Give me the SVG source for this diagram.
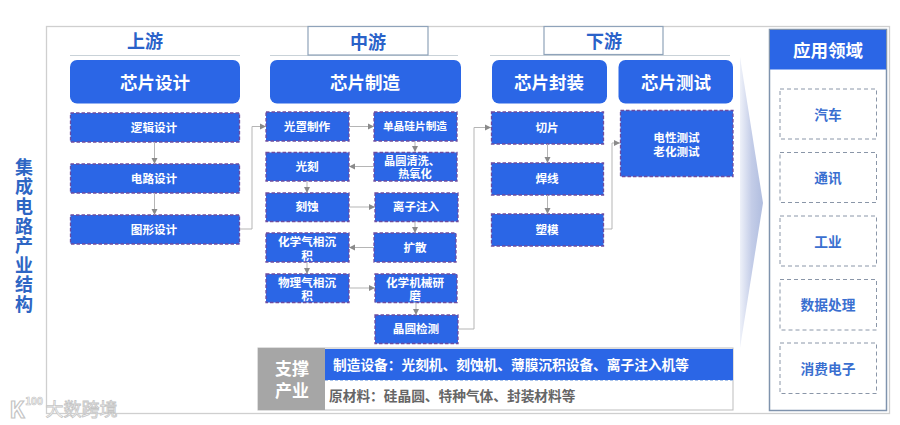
<svg xmlns="http://www.w3.org/2000/svg" width="900" height="425" viewBox="0 0 900 425">
<style>
text{font-family:"Noto Sans CJK SC","Noto Sans",sans-serif;font-weight:700;text-anchor:middle;dominant-baseline:central;transform:translateY(-1.5px)}
.h{fill:#2b66e6}
.t{fill:#fff;font-size:17.5px}
.s{fill:#2b66e6;stroke:#6d4c9f;stroke-width:1.3;stroke-dasharray:3.5 2}
.l{fill:#fff;font-size:11.6px}
.tier{fill:#2a62c9;font-size:18px}
.tb{fill:#fff;stroke:#8fa3ba;stroke-width:1.2}
.rule{stroke:#c9d2d8;stroke-width:1;fill:none}
.app{fill:#fff;stroke:#8a96a8;stroke-width:1;stroke-dasharray:4 3}
.al{fill:#3a6fd0;font-size:13.7px}
.c{fill:none;stroke:#b5b5b5;stroke-width:1;marker-end:url(#a)}
.v{fill:#2e66c4;font-size:18px;writing-mode:vertical-rl;text-anchor:start;letter-spacing:1.6px;transform:none}
.sup{font-size:13.7px;text-anchor:start}
</style>
<defs>
<marker id="a" markerUnits="userSpaceOnUse" markerWidth="7" markerHeight="7" refX="6" refY="3.5" orient="auto"><path d="M0 0.5L6 3.5L0 6.5z" fill="#8a8a8a"/></marker>
<linearGradient id="g" x1="0" y1="0" x2="1" y2="0"><stop offset="0" stop-color="#eef1f9"/><stop offset="0.5" stop-color="#c4cde8"/><stop offset="1" stop-color="#b0bddf"/></linearGradient>
</defs>
<rect width="900" height="425" fill="#fff"/>
<rect id="frame" x="46.500" y="26.500" width="843" height="387" fill="#fff" stroke="#cfcfcf" stroke-width="1.300"/>
<g id="title"><text class="v" x="24" y="158">集成电路产业结构</text></g>
<g id="tier-up"><path class="rule" d="M70 55.500H240"/><text class="tier" x="145" y="41">上游</text></g>
<g id="tier-mid"><path class="rule" d="M270 55.500H458"/><rect class="tb" x="308" y="26.500" width="120" height="28.500"/><text class="tier" x="368" y="42">中游</text></g>
<g id="tier-down"><path class="rule" d="M490 55.500H730"/><rect class="tb" x="544" y="26.500" width="119" height="28"/><text class="tier" x="604" y="41">下游</text></g>
<g id="head-design"><rect class="h" x="70" y="60" width="170" height="43.500" rx="7"/><text class="t" x="155" y="82.500">芯片设计</text></g>
<g id="head-fab"><rect class="h" x="270" y="60" width="191" height="43.500" rx="7"/><text class="t" x="365" y="82.500">芯片制造</text></g>
<g id="head-pack"><rect class="h" x="492" y="60" width="115" height="43.500" rx="7"/><text class="t" x="549" y="82.500">芯片封装</text></g>
<g id="head-test"><rect class="h" x="618.500" y="60" width="114.500" height="43.500" rx="7"/><text class="t" x="676" y="82.500">芯片测试</text></g>
<g id="n1"><rect class="s" x="70.500" y="113" width="169" height="29"/><text class="l" x="154" y="128">逻辑设计</text></g>
<g id="n2"><rect class="s" x="70.500" y="164" width="169" height="29"/><text class="l" x="154" y="179">电路设计</text></g>
<g id="n3"><rect class="s" x="70.500" y="215" width="169" height="29"/><text class="l" x="154" y="230">图形设计</text></g>
<g id="m1"><rect class="s" x="266" y="112" width="83" height="29"/><text class="l" x="307" y="127">光罩制作</text></g>
<g id="m2"><rect class="s" x="374" y="112" width="83" height="29"/><text class="l" x="415" y="127" style="font-size:10.7px">单晶硅片制造</text></g>
<g id="m3"><rect class="s" x="266" y="152.500" width="83" height="28.500"/><text class="l" x="307" y="167">光刻</text></g>
<g id="m4"><rect class="s" x="374" y="152.500" width="83" height="28.500"/><text class="l" style="font-size:11.2px"><tspan x="412" y="161">晶圆清洗、</tspan><tspan x="415" y="174">热氧化</tspan></text></g>
<g id="m5"><rect class="s" x="266" y="193" width="83" height="28.500"/><text class="l" x="307" y="207.500">刻蚀</text></g>
<g id="m6"><rect class="s" x="375" y="193" width="83" height="28.500"/><text class="l" x="416" y="207.500">离子注入</text></g>
<g id="m7"><rect class="s" x="266" y="233" width="83" height="29"/><text class="l"><tspan x="307" y="242">化学气相沉</tspan><tspan x="307" y="256">积</tspan></text></g>
<g id="m8"><rect class="s" x="374" y="233" width="82" height="29"/><text class="l" x="415" y="248">扩散</text></g>
<g id="m9"><rect class="s" x="266" y="274" width="83" height="28.500"/><text class="l"><tspan x="307" y="283">物理气相沉</tspan><tspan x="307" y="296">积</tspan></text></g>
<g id="m10"><rect class="s" x="375" y="274" width="82" height="28.500"/><text class="l"><tspan x="415" y="283">化学机械研</tspan><tspan x="415" y="296">磨</tspan></text></g>
<g id="m11"><rect class="s" x="375" y="315" width="83" height="28.500"/><text class="l" x="416" y="329.500">晶圆检测</text></g>
<g id="d1"><rect class="s" x="491.500" y="112" width="112" height="32"/><text class="l" x="547" y="128">切片</text></g>
<g id="d2"><rect class="s" x="491.500" y="163" width="112" height="32"/><text class="l" x="547" y="179.500">焊线</text></g>
<g id="d3"><rect class="s" x="491.500" y="214" width="112" height="32"/><text class="l" x="547" y="230">塑模</text></g>
<g id="d4"><rect class="s" x="620.500" y="110.500" width="112.500" height="66"/><text class="l"><tspan x="676.500" y="138">电性测试</tspan><tspan x="676.500" y="152">老化测试</tspan></text></g>
<g id="connectors">
<path class="c" d="M154.500 142V164"/><path class="c" d="M154.500 193V215"/>
<path class="c" d="M240 229H252V126.500H266"/>
<path class="c" d="M349 126.500H374"/><path class="c" d="M415 141V152"/>
<path class="c" d="M374 166.500H349"/><path class="c" d="M307 181V193"/>
<path class="c" d="M349 207H375"/><path class="c" d="M415 221.500V233"/>
<path class="c" d="M374 247.500H349"/><path class="c" d="M307 262V274"/>
<path class="c" d="M349 288H375"/><path class="c" d="M416 302.500V315"/>
<path class="c" d="M458 329H474V127.500H491"/>
<path class="c" d="M547.500 144V163"/><path class="c" d="M547.500 195V214"/>
<path class="c" d="M604 229H612V143H620"/>
</g>
<polygon id="flow" points="740,57 763,203 740,348" fill="url(#g)"/>
<g id="support">
<rect x="258" y="348" width="475" height="62" fill="#fff" stroke="#bdbdbd" stroke-width="1"/>
<rect x="258" y="348" width="67" height="62" fill="#a6a6a6"/>
<text x="292" y="369" fill="#fff" font-size="17">支撑</text><text x="292" y="391" fill="#fff" font-size="17">产业</text>
<rect x="325" y="349" width="408" height="31" fill="#2b66e6"/>
<path d="M325 380.500H733" stroke="#a9c3ea" stroke-dasharray="3 2" fill="none"/>
<text class="sup" x="333" y="365" fill="#fff">制造设备：光刻机、刻蚀机、薄膜沉积设备、离子注入机等</text>
<text class="sup" x="329" y="396" fill="#666">原材料：硅晶圆、特种气体、封装材料等</text>
</g>
<g id="apps">
<rect x="769.500" y="29.500" width="117" height="381" fill="#fff" stroke="#7f93ad" stroke-width="1.500"/>
<rect x="770" y="30" width="116" height="39.500" fill="#2b66e6"/>
<text x="828" y="51" fill="#fff" font-size="17.500">应用领域</text>
<g id="a1"><rect class="app" x="780" y="89" width="96.500" height="50"/><text class="al" x="828" y="115">汽车</text></g>
<g id="a2"><rect class="app" x="780" y="152.500" width="96.500" height="50"/><text class="al" x="828" y="178.500">通讯</text></g>
<g id="a3"><rect class="app" x="780" y="216" width="96.500" height="50"/><text class="al" x="828" y="242">工业</text></g>
<g id="a4"><rect class="app" x="780" y="279.500" width="96.500" height="50.500"/><text class="al" x="828" y="305.500">数据处理</text></g>
<g id="a5"><rect class="app" x="780" y="343" width="96.500" height="50.500"/><text class="al" x="828" y="369">消费电子</text></g>
</g>
<g id="watermark"><text x="81.500" y="409" font-size="18" fill="#fff" stroke="#c4c4c4" stroke-width="0.800" style="font-weight:400">大数跨境</text><text x="17" y="409" font-size="22" fill="#fff" stroke="#c4c4c4" stroke-width="1.200">K</text><text x="34" y="402" font-size="10" fill="#fff" stroke="#c4c4c4" stroke-width="0.700">100</text></g>
</svg>
